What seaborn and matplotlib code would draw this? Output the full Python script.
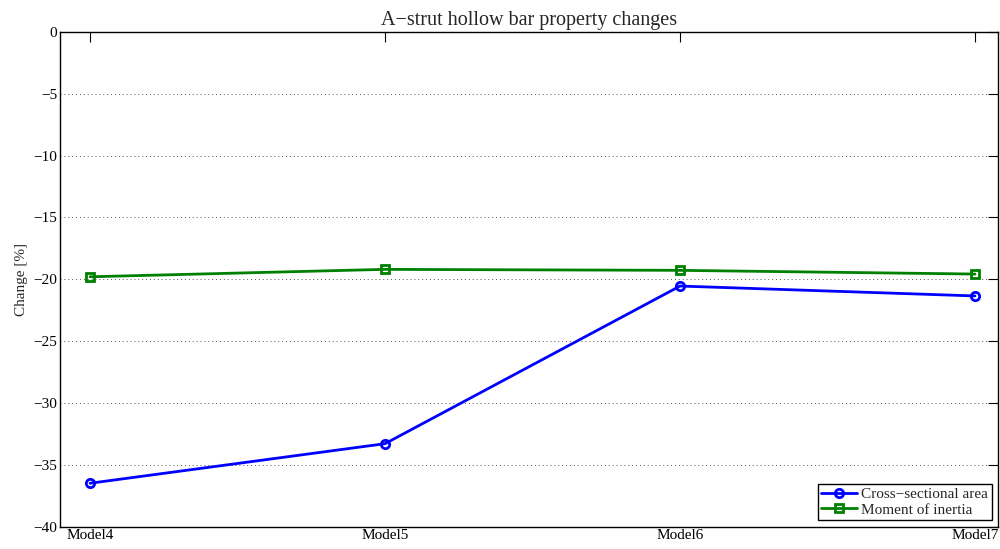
import matplotlib
matplotlib.use("Agg")
import matplotlib.pyplot as plt
import seaborn as sns
import pandas as pd
import numpy as np

models = ["Model4", "Model5", "Model6", "Model7"]
area = [-36.5, -33.3, -20.55, -21.35]
inertia = [-19.8, -19.2, -19.28, -19.58]
yticks = [0, -5, -10, -15, -20, -25, -30, -35, -40]
colors = ["#0000ff", "#008000"]

sns.set_style("white")
plt.rcParams['font.family'] = ['Liberation Serif', 'DejaVu Serif']

df = pd.DataFrame({
    "x": list(range(len(models))) * 2,
    "value": area + inertia,
    "series": ["Cross\u2212sectional area"] * len(models) + ["Moment of inertia"] * len(models),
})

fig = plt.figure(figsize=(10, 5.49), dpi=100)
ax = fig.add_axes([0.06, 1 - 526.5 / 549, 0.938, (526.5 - 32) / 549])

sns.lineplot(data=df, x="x", y="value", hue="series", style="series",
             palette=colors, markers=["o", "s"], dashes=False,
             linewidth=2, markersize=6, ax=ax)
for line in ax.get_lines():
    c = line.get_color()
    line.set_markerfacecolor("none")
    line.set_markeredgecolor(c)
    line.set_markeredgewidth(2.0)

ax.set_xlim(-0.102, 3.078)
ax.set_ylim(-40, 0)
ax.set_xticks(range(len(models)))
ax.set_xticklabels(models)
ax.set_yticks(yticks)
ax.set_yticklabels([str(t).replace("-", "\u2212") for t in yticks])
ax.yaxis.grid(True, linestyle=(0, (1, 3)), color="#555555", linewidth=0.7)
ax.xaxis.grid(False)
ax.tick_params(direction="in", length=7.5, width=0.8, top=True, right=True,
               labelsize=11, pad=2, colors="black")
for s in ax.spines.values():
    s.set_visible(True)
    s.set_color("black")
    s.set_linewidth(1.0)
ax.set_xlabel("")
ax.set_ylabel("Change [%]", fontsize=11, labelpad=4)
ax.set_title("A\u2212strut hollow bar property changes", fontsize=14.5, pad=5)

leg = ax.legend(loc="lower right", fontsize=11, frameon=True, fancybox=False,
                edgecolor="black", framealpha=1, borderpad=0.25, labelspacing=0.1,
                handlelength=2.3, handletextpad=0.3, borderaxespad=0.4)
leg.get_frame().set_linewidth(1.0)
for h in leg.get_lines():
    c = h.get_color()
    h.set_markerfacecolor("none")
    h.set_markeredgecolor(c)
    h.set_markeredgewidth(2.0)

fig.savefig("out.png", dpi=100)
